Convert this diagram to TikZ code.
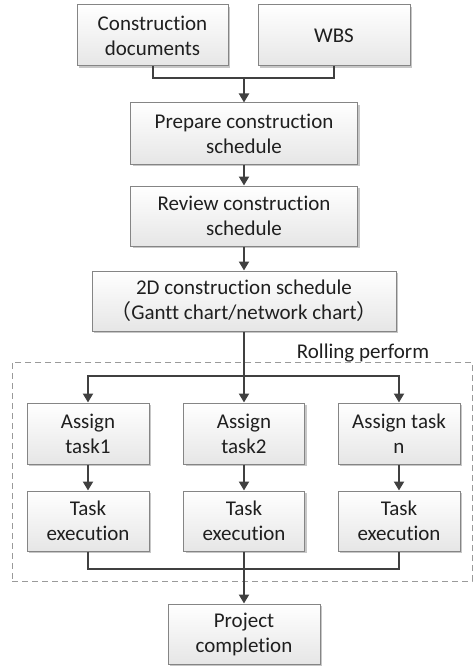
\documentclass[tikz,border=0pt]{standalone}
\usepackage{fontspec}
\setmainfont{Carlito}[Ligatures={NoCommon}]
\newfontfamily\cjk{Noto Sans CJK SC}
\usetikzlibrary{arrows.meta,shadows}
\definecolor{boxborder}{HTML}{858585}
\definecolor{boxbot}{HTML}{E6E6E6}
\definecolor{linecol}{HTML}{404040}
\definecolor{dashcol}{HTML}{9A9A9A}
\begin{document}
\begin{tikzpicture}[x=1pt,y=-1pt,
  txt/.style={font=\fontsize{21}{25}\selectfont, text=black!88},
  box/.style={txt, draw=boxborder, line width=1pt, top color=white, bottom color=boxbot,
    align=center, inner sep=0pt,
    drop shadow={shadow xshift=2pt, shadow yshift=-2pt, opacity=0.22, fill=black}},
  conn/.style={draw=linecol, line width=2pt},
  arr/.style={conn, -{Triangle[length=9pt,width=10pt]}}]
\useasboundingbox (0,0) rectangle (475,666);

\node[draw=dashcol, line width=1pt, dash pattern=on 6pt off 4pt, minimum width=460pt, minimum height=219pt, inner sep=0pt] (roll) at (242,471.5) {};
\node[txt, anchor=base] (rp) at (363,358) {Rolling perform};

\node[box, minimum width=151pt, minimum height=61pt] (cd) at (152.5,35.5) {Construction\\documents};
\node[box, minimum width=152pt, minimum height=61pt] (wbs) at (334,35.5) {WBS};
\node[box, minimum width=227pt, minimum height=61pt] (prep) at (244,133.5) {Prepare construction\\schedule};
\node[box, minimum width=227pt, minimum height=60pt] (rev) at (244,216) {Review construction\\schedule};
\node[box, minimum width=304pt, minimum height=60pt] (gantt) at (244,301) {2D construction schedule\\{\cjk （}Gantt chart/network chart{\cjk ）}};

\node[box, minimum width=122pt, minimum height=61pt] (a1) at (88,433.5) {Assign\\task1};
\node[box, minimum width=121pt, minimum height=61pt] (a2) at (244,433.5) {Assign\\task2};
\node[box, minimum width=122pt, minimum height=61pt] (an) at (399,433.5) {Assign task\\n};

\node[box, minimum width=122pt, minimum height=60pt] (t1) at (88,521) {Task\\execution};
\node[box, minimum width=121pt, minimum height=60pt] (t2) at (244,521) {Task\\execution};
\node[box, minimum width=122pt, minimum height=60pt] (tn) at (399,521) {Task\\execution};

\node[box, minimum width=152pt, minimum height=60pt] (proj) at (244,634) {Project\\completion};

\coordinate (m1) at (244,78);
\coordinate (b) at (244,376);
\coordinate (m2) at (244,569);

\draw[conn] (cd.south) |- (m1) -| (wbs.south);
\draw[arr] (m1) -- (prep.north);
\draw[arr] (prep) -- (rev);
\draw[arr] (rev) -- (gantt);
\draw[conn] (gantt.south) -- (b);
\draw[arr] (b) -| (a1.north);
\draw[arr] (b) -| (an.north);
\draw[arr] (b) -- (a2.north);
\draw[arr] (a1) -- (t1);
\draw[arr] (a2) -- (t2);
\draw[arr] (an) -- (tn);
\draw[conn] (t1.south) |- (m2) -| (tn.south);
\draw[arr] (t2.south) -- (proj.north);
\end{tikzpicture}
\end{document}
